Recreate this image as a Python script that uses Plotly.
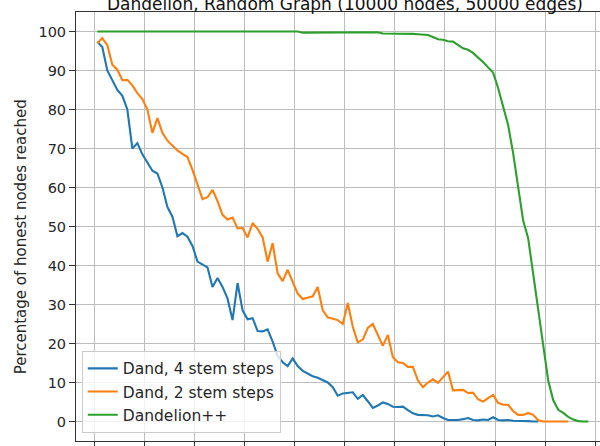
import plotly.graph_objects as go

# ---------------- data ----------------
series_names = ["Dand, 4 stem steps", "Dand, 2 stem steps", "Dandelion++"]
series_colors = ["#1f77b4", "#ff7f0e", "#2ca02c"]

blue_vals = [97.4, 96.0, 90.0, 87.5, 85.0, 83.5, 80.0, 70.0, 71.4, 68.5,
             66.5, 64.3, 63.6, 60.0, 55.0, 52.5, 47.5, 48.3, 47.4, 45.0,
             41.0, 40.2, 39.5, 34.5, 36.8, 34.5, 31.5, 26.0, 35.5, 28.5,
             26.2, 26.5, 23.2, 23.1, 23.6, 20.5, 16.8, 15.2, 14.2, 16.2,
             14.2, 13.0, 12.2, 11.6, 11.2, 10.7, 10.0, 8.8, 6.6, 7.2,
             7.3, 7.5, 5.8, 6.8, 5.2, 3.5, 4.1, 4.9, 4.5, 3.8,
             3.7, 3.8, 2.9, 2.1, 1.7, 1.7, 1.6, 1.3, 1.6, 0.9,
             0.4, 0.4, 0.4, 0.6, 0.9, 0.4, 0.3, 0.5, 0.4, 1.1,
             0.4, 0.3, 0.4, 0.2, 0.2, 0.1, 0.1, 0.0, 0.0]

orange_vals = [97.0, 98.3, 96.5, 91.5, 90.2, 87.5, 87.6, 86.2, 84.2, 82.7,
               80.0, 74.0, 77.8, 74.0, 72.0, 70.8, 69.5, 68.6, 67.8, 64.5,
               60.5, 57.0, 57.5, 59.4, 56.5, 53.0, 51.8, 52.3, 49.5, 49.6,
               47.2, 50.9, 49.4, 47.2, 41.0, 45.7, 38.0, 36.0, 38.9, 35.7,
               32.8, 31.4, 31.8, 32.1, 34.5, 28.5, 26.7, 26.4, 26.0, 25.0,
               30.4, 24.3, 20.3, 21.0, 24.0, 25.0, 22.0, 19.4, 22.2, 16.5,
               15.2, 15.0, 14.0, 14.0, 10.5, 8.8, 10.0, 10.8, 9.9, 11.4,
               12.8, 8.0, 8.1, 8.1, 7.3, 7.4, 5.7, 5.1, 6.0, 6.8,
               4.8, 4.3, 4.3, 2.7, 1.7, 1.7, 2.2, 1.7, 0.3, 0.0,
               0.0, 0.0, 0.0, 0.0, 0.0]

green_vals = [100.0, 100.0, 100.0, 100.0, 100.0, 100.0, 100.0, 100.0, 100.0, 100.0,
              100.0, 100.0, 100.0, 100.0, 100.0, 100.0, 100.0, 100.0, 100.0, 100.0,
              100.0, 100.0, 100.0, 100.0, 100.0, 100.0, 100.0, 100.0, 100.0, 100.0,
              100.0, 100.0, 100.0, 100.0, 100.0, 100.0, 100.0, 100.0, 100.0, 100.0,
              100.0, 99.7, 99.7, 99.7, 99.7, 99.7, 99.7, 99.7, 99.7, 99.8,
              99.8, 99.8, 99.8, 99.8, 99.8, 99.8, 99.8, 99.5, 99.5, 99.5,
              99.5, 99.4, 99.4, 99.4, 99.3, 99.2, 99.1, 98.6, 98.0, 97.9,
              97.5, 97.4, 96.5, 95.7, 95.3, 94.5, 93.3, 92.2, 90.8, 89.5,
              85.5, 81.0, 76.0, 68.8, 59.5, 51.5, 47.0, 38.0, 29.5, 20.0,
              10.5, 5.5, 3.0, 2.2, 1.2, 0.5, 0.1, 0.0, 0.0]

all_vals = [blue_vals, orange_vals, green_vals]

y_ticks = [0, 10, 20, 30, 40, 50, 60, 70, 80, 90, 100]
title_text = "Dandelion, Random Graph (10000 nodes, 50000 edges)"
y_label = "Percentage of honest nodes reached"

# ---------------- figure ----------------
FONT = "DejaVu Sans"
fig = go.Figure()
for name, color, vals in zip(series_names, series_colors, all_vals):
    fig.add_trace(go.Scatter(
        x=list(range(len(vals))), y=vals, mode="lines", name=name,
        line=dict(color=color, width=2.1),
    ))

fig.update_layout(
    width=600, height=446,
    margin=dict(l=76, r=0, t=12, b=5, pad=0),
    paper_bgcolor="white", plot_bgcolor="white",
    font=dict(family=FONT, size=14.5, color="#262626"),
    showlegend=True,
    legend=dict(
        x=0.011, y=0.019, xanchor="left", yanchor="bottom",
        bgcolor="rgba(255,255,255,0.8)", bordercolor="#cccccc", borderwidth=1,
        font=dict(family=FONT, size=15.5, color="#262626"),
        tracegroupgap=0,
    ),
)

fig.update_xaxes(
    range=[-4.25, 100.34], tick0=-0.6, dtick=10,
    showgrid=True, gridcolor="#bdbdbd", gridwidth=1,
    zeroline=False, showline=True, linecolor="#333333", linewidth=1,
    mirror=True, ticks="outside", ticklen=6, tickcolor="#333333",
    showticklabels=False, automargin=False,
)
fig.update_yaxes(
    range=[-5, 105], tickvals=y_ticks, ticktext=[str(v) for v in y_ticks],
    showgrid=True, gridcolor="#bdbdbd", gridwidth=1,
    zeroline=False, showline=True, linecolor="#333333", linewidth=1,
    mirror=False, ticks="outside", ticklen=6, tickcolor="#333333",
    tickfont=dict(family=FONT, size=14.5, color="#262626"),
    automargin=False,
)

fig.add_annotation(
    text=title_text, xref="paper", yref="paper", x=0.513, y=1.0,
    xanchor="center", yanchor="bottom", yshift=-4, showarrow=False,
    font=dict(family=FONT, size=17, color="#111111"),
)
fig.add_annotation(
    text=y_label, xref="paper", yref="paper", x=-0.105, y=0.477,
    xanchor="center", yanchor="middle", textangle=-90, showarrow=False,
    font=dict(family=FONT, size=15, color="#262626"),
)

fig.write_html("out.html")
